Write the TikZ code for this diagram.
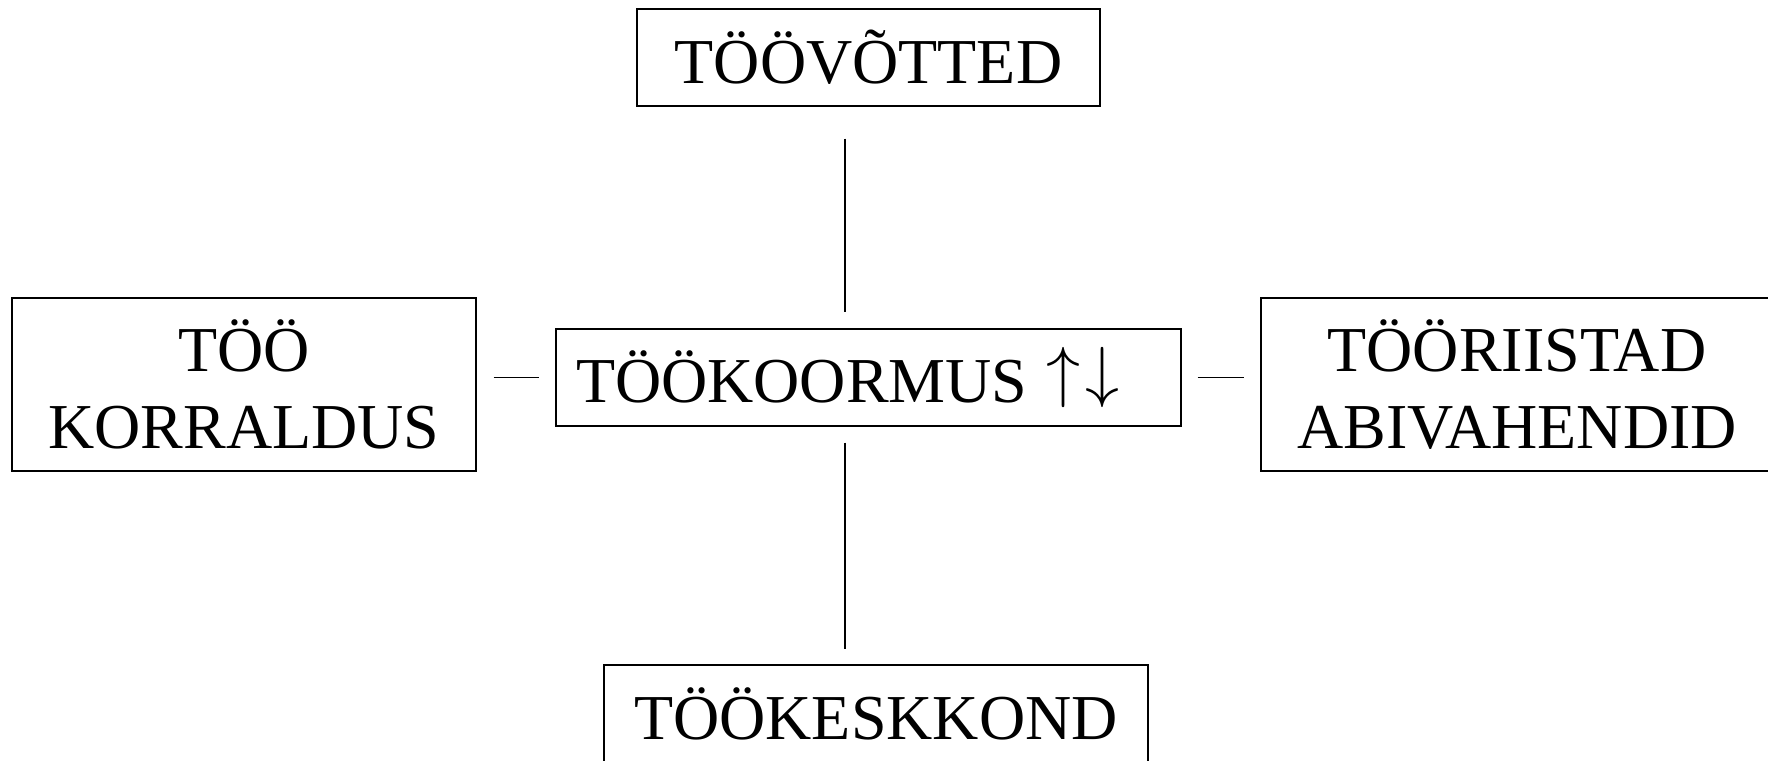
\documentclass[tikz,border=0pt]{standalone}
\usepackage{graphicx}
\usepackage{fontspec}
\setmainfont{Liberation Serif}
\begin{document}
\begin{tikzpicture}[x=1pt,y=-1pt,
  box/.style={draw=black, line width=1.2pt, inner sep=0pt,
    font=\fontsize{64}{77}\selectfont, align=center},
  link/.style={draw=black, line width=1.4pt}]
\useasboundingbox (0,0) rectangle (1768,760);
\clip (0,0) rectangle (1768,760);

% boxes
\node[box, minimum width=463pt, minimum height=97pt] (tv) at (868.5,57.5)
  {TÖÖVÕTTED};
\node[box, minimum width=625pt, minimum height=97pt] (tk) at (868.5,377.5)
  {\makebox[625pt][l]{\hspace{20pt}TÖÖKOORMUS\hspace{19pt}%
   \raisebox{8pt}{\scalebox{6.8}{\normalsize$\uparrow\mkern1.2mu\downarrow$}}}};
\node[box, minimum width=464pt, minimum height=173pt] (kor) at (244,384.5)
  {TÖÖ\\KORRALDUS};
\node[box, minimum width=512pt, minimum height=173pt] (ri) at (1517,384.5)
  {TÖÖRIISTAD\\ABIVAHENDID};
\node[box, minimum width=544pt, minimum height=97pt] (kk) at (876,713.5)
  {TÖÖKESKKOND};

% connectors
\draw[link] ([xshift=-23.5pt,yshift=-32pt]tv.south) -- ([xshift=-23.5pt,yshift=16pt]tk.north);
\draw[link] ([xshift=-23.5pt,yshift=-16pt]tk.south) -- ([xshift=-31pt,yshift=15pt]kk.north);
\draw[link] ([xshift=17pt,yshift=7pt]kor.east) -- ([xshift=-16pt]tk.west);
\draw[link] ([xshift=16pt]tk.east) -- ([xshift=-16pt,yshift=7pt]ri.west);
\end{tikzpicture}
\end{document}
